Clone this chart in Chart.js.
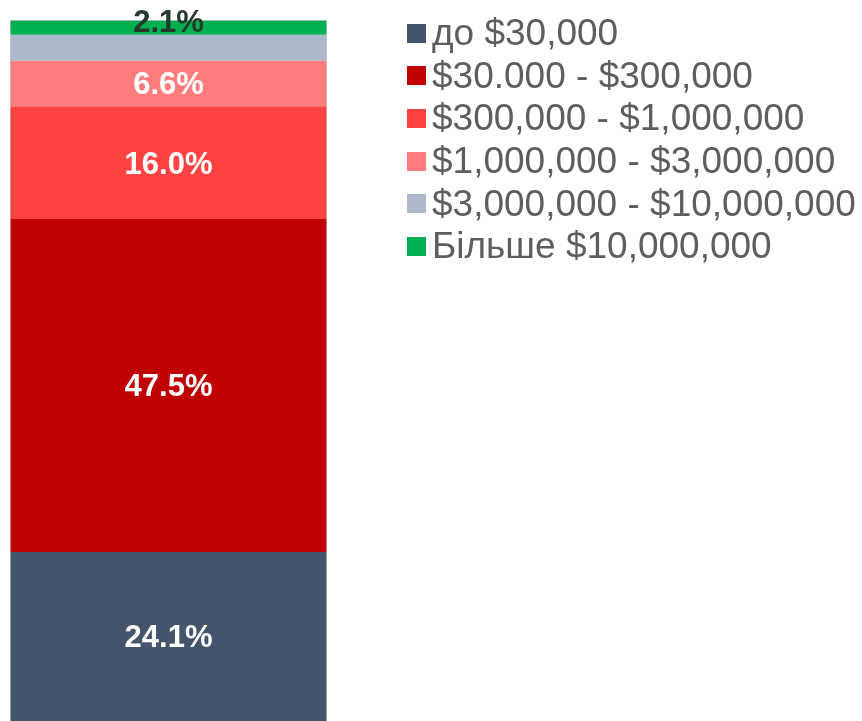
<!DOCTYPE html>
<html>
<head>
<meta charset="utf-8">
<script src="https://cdn.jsdelivr.net/npm/chart.js@4"></script>
<style>
  body { margin: 0; background: #fff; }
  #wrap { position: relative; width: 862px; height: 721px; }
  #legend {
    position: absolute; left: 407px; top: 12px;
    font-family: "Liberation Sans", Arial, sans-serif; font-size: 37px; color: #5E5E5E;
  }
  .item { display: flex; align-items: center; height: 42.6px; white-space: nowrap; }
  .box { width: 19px; height: 19px; margin-right: 6px; flex: none; }
</style>
</head>
<body>
<div id="wrap">
  <canvas id="chart"></canvas>
  <div id="legend"></div>
</div>
<script>
const categories = ['до $30,000', '$30.000 - $300,000', '$300,000 - $1,000,000',
  '$1,000,000 - $3,000,000', '$3,000,000 - $10,000,000', 'Більше $10,000,000'];
const values = [24.1, 47.5, 16.0, 6.6, 3.7, 2.1];
const colors = ['#44546A', '#C00000', '#FF4242', '#FF7C7C', '#ADB9CA', '#00B050'];
// where each value label goes: inside the segment, on its top edge, or not shown
const labelModes = ['in', 'in', 'in', 'in', 'none', 'top'];

const segmentLabels = {
  id: 'segmentLabels',
  afterDatasetsDraw(chart) {
    const ctx = chart.ctx;
    ctx.save();
    ctx.font = 'bold 31px "Liberation Sans", Arial, sans-serif';
    ctx.textAlign = 'center';
    ctx.textBaseline = 'middle';
    chart.data.datasets.forEach((ds, i) => {
      const mode = labelModes[i];
      if (mode === 'none') return;
      const bar = chart.getDatasetMeta(i).data[0];
      const y = mode === 'top' ? bar.y + 3 : (bar.y + bar.base) / 2 + 2;
      ctx.fillStyle = mode === 'top' ? '#24382B' : '#FFFFFF';
      ctx.fillText(ds.data[0].toFixed(1) + '%', bar.x, y);
    });
    ctx.restore();
  }
};

const datasets = categories.map((name, i) => ({
  label: name,
  data: [values[i]],
  backgroundColor: colors[i],
  borderColor: '#C8C8C8',
  borderWidth: { left: 1, right: 1, top: i === categories.length - 1 ? 1 : 0, bottom: 0 },
  borderSkipped: false,
  barPercentage: 1,
  categoryPercentage: 1
}));

const chart = new Chart(document.getElementById('chart'), {
  type: 'bar',
  data: { labels: [''], datasets: datasets },
  options: {
    responsive: true,
    maintainAspectRatio: false,
    animation: false,
    layout: { padding: { top: 20, left: 10, right: 535, bottom: 0 } },
    scales: {
      x: { stacked: true, display: false },
      y: { stacked: true, display: false, min: 0, max: 100 }
    },
    plugins: {
      legend: { display: false },
      tooltip: { enabled: false }
    }
  },
  plugins: [segmentLabels]
});

const legend = document.getElementById('legend');
chart.data.datasets.forEach(ds => {
  const item = document.createElement('div');
  item.className = 'item';
  const box = document.createElement('span');
  box.className = 'box';
  box.style.background = ds.backgroundColor;
  const text = document.createElement('span');
  text.textContent = ds.label;
  item.appendChild(box);
  item.appendChild(text);
  legend.appendChild(item);
});
</script>
</body>
</html>
